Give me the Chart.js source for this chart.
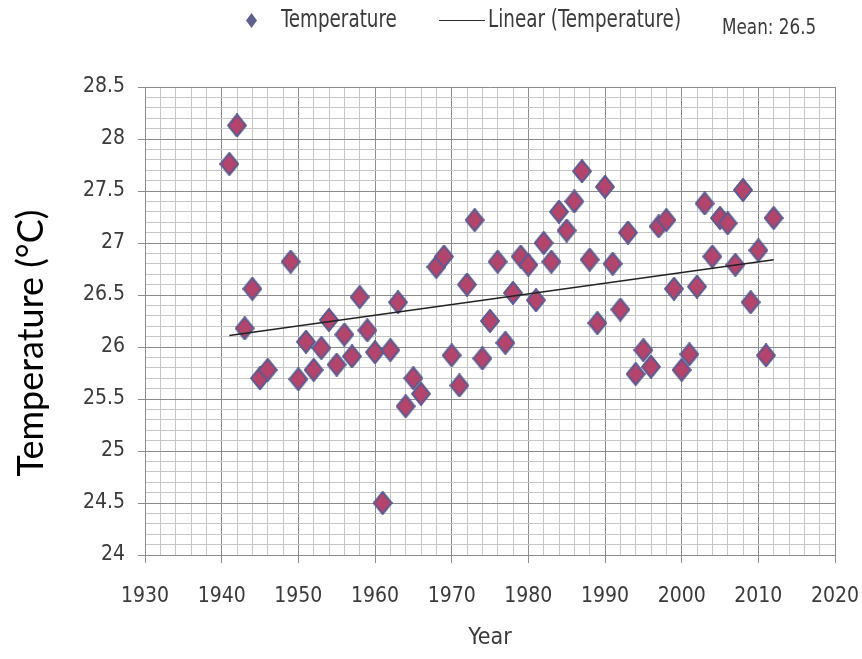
<!DOCTYPE html>
<html>
<head>
<meta charset="utf-8">
<script src="https://cdn.jsdelivr.net/npm/chart.js@4"></script>
<style>
  html, body { margin: 0; padding: 0; background: #fff; }
  #wrap { width: 862px; height: 659px; }
</style>
</head>
<body>
<div id="wrap"><canvas id="chart" width="862" height="659"></canvas></div>
<script>
// --- data ---
const years = [1941, 1942, 1943, 1944, 1945, 1946, 1949, 1950, 1951, 1952, 1953, 1954, 1955, 1956, 1957, 1958, 1959,
               1960, 1961, 1962, 1963, 1964, 1965, 1966, 1968, 1969, 1970, 1971, 1972, 1973, 1974, 1975, 1976, 1977,
               1978, 1979, 1980, 1981, 1982, 1983, 1984, 1985, 1986, 1987, 1988, 1989, 1990, 1991, 1992, 1993, 1994,
               1995, 1996, 1997, 1998, 1999, 2000, 2001, 2002, 2003, 2004, 2005, 2006, 2007, 2008, 2009, 2010, 2011, 2012];
const temps = [27.76, 28.13, 26.18, 26.56, 25.70, 25.78, 26.82, 25.69, 26.05, 25.78, 25.99, 26.26, 25.83, 26.12, 25.91, 26.48, 26.16,
               25.95, 24.50, 25.97, 26.43, 25.43, 25.70, 25.55, 26.77, 26.87, 25.92, 25.63, 26.60, 27.22, 25.89, 26.25, 26.82, 26.04,
               26.52, 26.87, 26.79, 26.45, 27.00, 26.82, 27.30, 27.12, 27.40, 27.69, 26.84, 26.23, 27.54, 26.80, 26.36, 27.10, 25.74,
               25.97, 25.81, 27.16, 27.22, 26.56, 25.78, 25.93, 26.58, 27.38, 26.87, 27.24, 27.19, 26.79, 27.51, 26.43, 26.93, 25.92, 27.24];
const trendYears = [1941, 2012];
const trendTemps = [26.11, 26.84];

const xRange = [1930, 2020];
const yRange = [24, 28.5];
const seriesName = 'Temperature';
const trendName = 'Linear (Temperature)';
const meanLabel = 'Mean: 26.5';
const xTitle = 'Year';
const yTitle = 'Temperature (°C)';

// --- styling ---
const narrow = "'Liberation Sans Narrow', 'DejaVu Sans Condensed', 'Arial Narrow', sans-serif";
const majorGrid = '#8c8c8c';
const minorGrid = '#c6c6c6';
const textColor = '#3a3a3a';

function diamond(w, h, fill, stroke, lw) {
    const c = document.createElement('canvas');
    c.width = w; c.height = h;
    const g = c.getContext('2d');
    g.beginPath();
    g.moveTo(w / 2, lw / 2); g.lineTo(w - lw / 2, h / 2); g.lineTo(w / 2, h - lw / 2); g.lineTo(lw / 2, h / 2);
    g.closePath();
    g.fillStyle = fill; g.fill();
    if (lw) { g.lineWidth = lw; g.strokeStyle = stroke; g.stroke(); }
    return c;
}
const marker = diamond(20, 24, '#b3446c', '#5d5b8f', 2);

const isMajorX = v => Math.round(v) % 10 === 0;
const isMajorY = v => Math.round(v * 10) % 5 === 0;

// narrow text: squeeze horizontally so the letters stay tall
function squeezed(ctx, text, x, y, sx) {
    ctx.save();
    ctx.translate(x, y); ctx.scale(sx, 1);
    ctx.fillText(text, 0, 0);
    ctx.restore();
}

// legend, mean note and rotated y title drawn on top
const extras = {
    id: 'extras',
    afterDraw(chart) {
        const ctx = chart.ctx;
        ctx.save();
        ctx.drawImage(diamond(11, 15, '#60608f', null, 0), 246, 13);
        ctx.fillStyle = textColor;
        ctx.textBaseline = 'middle';
        ctx.textAlign = 'left';
        ctx.font = '24px ' + narrow;
        squeezed(ctx, seriesName, 281, 21, 0.85);
        ctx.strokeStyle = '#333'; ctx.lineWidth = 1;
        ctx.beginPath(); ctx.moveTo(439, 20.5); ctx.lineTo(485, 20.5); ctx.stroke();
        squeezed(ctx, trendName, 488, 21, 0.85);
        ctx.font = '22px ' + narrow;
        squeezed(ctx, meanLabel, 722, 28, 0.85);
        ctx.translate(31, 343);
        ctx.rotate(-Math.PI / 2);
        ctx.textAlign = 'center';
        ctx.fillStyle = '#000';
        ctx.font = "36px Lato, 'Open Sans', sans-serif";
        ctx.fillText(yTitle, 0, 0);
        ctx.restore();
    }
};

new Chart(document.getElementById('chart'), {
    type: 'scatter',
    data: {
        datasets: [
            {
                label: seriesName,
                data: years.map((y, i) => ({ x: y, y: temps[i] })),
                pointStyle: marker,
                pointRadius: 10,
                pointHoverRadius: 10,
                order: 1
            },
            {
                label: trendName,
                type: 'line',
                data: trendYears.map((y, i) => ({ x: y, y: trendTemps[i] })),
                borderColor: '#222',
                borderWidth: 1.5,
                pointRadius: 0,
                fill: false,
                order: 0
            }
        ]
    },
    options: {
        responsive: false,
        animation: false,
        layout: { padding: { left: 0, top: 87, right: 27, bottom: 0 } },
        plugins: { legend: { display: false }, tooltip: { enabled: false } },
        scales: {
            x: {
                type: 'linear',
                min: xRange[0], max: xRange[1],
                afterFit: s => { s.height = 104; s.paddingLeft = 0; s.paddingRight = 0; },
                ticks: {
                    stepSize: 2, autoSkip: false, maxRotation: 0, minRotation: 0, padding: 21,
                    color: textColor, font: { family: narrow, size: 21 },
                    callback: v => isMajorX(v) ? String(v) : ''
                },
                grid: {
                    color: c => isMajorX(c.tick.value) ? majorGrid : minorGrid,
                    tickColor: c => isMajorX(c.tick.value) ? majorGrid : 'rgba(0,0,0,0)',
                    tickLength: 8
                },
                border: { color: majorGrid },
                title: {
                    display: true, text: xTitle, color: textColor,
                    font: { family: narrow, size: 23 }, padding: { top: 0, bottom: 7 }
                }
            },
            y: {
                min: yRange[0], max: yRange[1],
                afterFit: s => { s.width = 145; s.paddingTop = 0; s.paddingBottom = 0; },
                ticks: {
                    stepSize: 0.1, autoSkip: false, padding: 13,
                    color: textColor, font: { family: narrow, size: 21 },
                    callback: v => isMajorY(v) ? String(Math.round(v * 10) / 10) : ''
                },
                grid: {
                    color: c => isMajorY(c.tick.value) ? majorGrid : minorGrid,
                    tickColor: c => isMajorY(c.tick.value) ? majorGrid : 'rgba(0,0,0,0)',
                    tickLength: 7
                },
                border: { color: majorGrid }
            }
        }
    },
    plugins: [extras]
});
</script>
</body>
</html>
